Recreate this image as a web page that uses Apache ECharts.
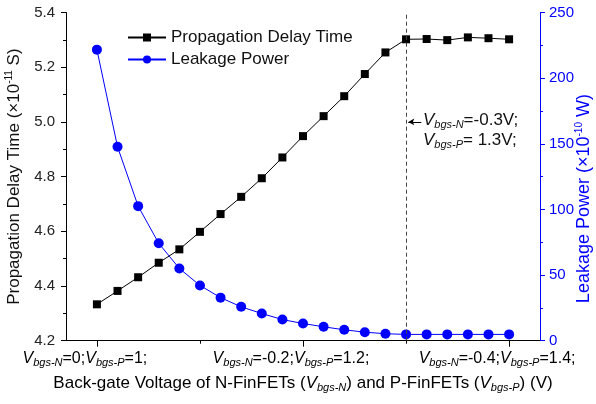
<!DOCTYPE html>
<html>
<head>
<meta charset="utf-8">
<script src="https://cdn.jsdelivr.net/npm/echarts@6/dist/echarts.min.js"></script>
<style>
html, body { margin: 0; padding: 0; background: #fff; }
#main { width: 596px; height: 404px; }
</style>
</head>
<body>
<div id="main"></div>
<script>
// step index along the back-gate sweep (0 -> Vbgs-N=0, 20 -> Vbgs-N=-0.4)
const steps = [0, 1, 2, 3, 4, 5, 6, 7, 8, 9, 10, 11, 12, 13, 14, 15, 16, 17, 18, 19, 20];
const delayTime = [4.333, 4.382, 4.432, 4.485, 4.534, 4.598, 4.663, 4.726, 4.794, 4.870, 4.948,
                   5.021, 5.094, 5.175, 5.254, 5.302, 5.303, 5.299, 5.309, 5.306, 5.302];
const leakagePower = [221.7, 147.7, 102.5, 74.2, 55.0, 42.1, 32.8, 25.8, 20.7, 16.1, 13.1,
                      10.6, 8.3, 6.5, 5.3, 4.8, 4.8, 4.8, 4.8, 4.8, 4.8];
const tickSteps = [0, 10, 20];
const minorTickSteps = [5, 15];
const tickVbgsN = ['0', '-0.2', '-0.4'];
const tickVbgsP = ['1', '1.2', '1.4'];
const markStep = 15;
const markVbgsN = '-0.3V;';
const markVbgsP = ' 1.3V;';

const FONT = '"Liberation Sans", Arial, sans-serif';
const BLUE = '#0000ff';

function richSet(size, color) {
    return {
        n: { fontFamily: FONT, fontSize: size, lineHeight: 20, color: color },
        v: { fontFamily: FONT, fontSize: size, lineHeight: 20, fontStyle: 'italic', color: color },
        s: { fontFamily: FONT, fontSize: 11, lineHeight: 8, fontStyle: 'italic', verticalAlign: 'bottom', color: color },
        sup: { fontFamily: FONT, fontSize: 10, lineHeight: 10, verticalAlign: 'top', color: color }
    };
}

var myChart = echarts.init(document.getElementById('main'));
myChart.setOption({
    animation: false,
    backgroundColor: '#fff',
    grid: { left: 66, right: 56, top: 12.5, bottom: 63.3, containLabel: false, outerBoundsMode: 'none' },
    legend: {
        orient: 'vertical',
        left: 122,
        top: 24,
        itemWidth: 38,
        itemHeight: 10,
        itemGap: 5,
        textStyle: { fontFamily: FONT, fontSize: 17, color: '#111' },
        data: ['Propagation Delay Time', 'Leakage Power']
    },
    xAxis: [
        {
            type: 'value',
            min: -1.5,
            max: 21.5,
            splitLine: { show: false },
            axisLine: { onZero: false, lineStyle: { color: '#000', width: 1 } },
            axisTick: { customValues: tickSteps, length: 6, lineStyle: { color: '#000' } },
            axisLabel: {
                customValues: tickSteps,
                margin: 8,
                padding: [0, 24, 0, 0],
                formatter: function (v) {
                    const k = tickSteps.indexOf(Math.round(v));
                    if (k < 0) return '';
                    return '{v|V}{s|bgs-N}{n|=' + tickVbgsN[k] + ';}{v|V}{s|bgs-P}{n|=' + tickVbgsP[k] + ';}';
                },
                rich: richSet(16, '#000')
            },
            name: '{n|Back-gate Voltage of N-FinFETs (}{v|V}{s|bgs-N}{n|) and P-FinFETs (}{v|V}{s|bgs-P}{n|) (V)}',
            nameLocation: 'middle',
            nameGap: 33,
            nameTextStyle: { rich: richSet(17, '#000') }
        },
        {
            type: 'value',
            min: -1.5,
            max: 21.5,
            position: 'bottom',
            splitLine: { show: false },
            axisLine: { show: false, onZero: false },
            axisTick: { customValues: minorTickSteps, length: 3, lineStyle: { color: '#000' } },
            axisLabel: { show: false }
        }
    ],
    yAxis: [
        {
            type: 'value',
            min: 4.2,
            max: 5.4,
            interval: 0.2,
            splitLine: { show: false },
            axisLine: { show: true, onZero: false, lineStyle: { color: '#000', width: 1 } },
            axisTick: { show: true, length: 5, lineStyle: { color: '#000' } },
            minorTick: { show: true, splitNumber: 2, length: 3, lineStyle: { color: '#000' } },
            axisLabel: {
                fontFamily: FONT, fontSize: 15, color: '#222', margin: 11,
                formatter: function (v) { return v.toFixed(1); }
            },
            name: '{n|Propagation Delay Time (×10}{sup|-11}{n| S)}',
            nameLocation: 'middle',
            nameGap: 41,
            nameTextStyle: { rich: richSet(17, '#111') }
        },
        {
            type: 'value',
            min: 0,
            max: 250,
            interval: 50,
            position: 'right',
            splitLine: { show: false },
            axisLine: { show: true, onZero: false, lineStyle: { color: BLUE, width: 1 } },
            axisTick: { show: true, length: 5, lineStyle: { color: BLUE } },
            minorTick: { show: true, splitNumber: 2, length: 3, lineStyle: { color: BLUE } },
            axisLabel: { fontFamily: FONT, fontSize: 15, color: BLUE, margin: 9 },
            name: '{n|Leakage Power (×10}{sup|-10}{n| W)}',
            nameLocation: 'middle',
            nameGap: 34,
            nameMoveOverlap: false,
            nameTextStyle: { padding: [0, 44, 0, 0], rich: richSet(18, BLUE) }
        }
    ],
    series: [
        {
            name: 'Propagation Delay Time',
            type: 'line',
            xAxisIndex: 0,
            yAxisIndex: 0,
            data: steps.map(function (s, i) { return [s, delayTime[i]]; }),
            symbol: 'rect',
            symbolSize: 8,
            itemStyle: { color: '#000' },
            lineStyle: { color: '#000', width: 1 },
            z: 3,
            markLine: {
                silent: true,
                symbol: ['none', 'none'],
                label: { show: false },
                data: [
                    { xAxis: markStep, lineStyle: { type: [4, 3], color: '#444', width: 1 } },
                    [
                        { coord: [markStep + 0.74, 5.0], symbol: 'none', lineStyle: { type: 'solid', color: '#000', width: 1 } },
                        { coord: [markStep + 0.11, 5.0], symbol: 'arrow', symbolSize: [5, 6] }
                    ]
                ]
            },
            markPoint: {
                silent: true,
                symbol: 'circle',
                symbolSize: 0,
                data: [{ coord: [markStep + 0.82, 4.968] }],
                label: {
                    show: true,
                    position: 'right',
                    distance: 0,
                    align: 'left',
                    formatter: '{v|V}{s|bgs-N}{n|=' + markVbgsN + '}\n{v|V}{s|bgs-P}{n|=' + markVbgsP + '}',
                    rich: richSet(17, '#111')
                }
            }
        },
        {
            name: 'Leakage Power',
            type: 'line',
            xAxisIndex: 0,
            yAxisIndex: 1,
            data: steps.map(function (s, i) { return [s, leakagePower[i]]; }),
            symbol: 'circle',
            symbolSize: 10,
            itemStyle: { color: BLUE },
            lineStyle: { color: BLUE, width: 1 },
            z: 2
        }
    ]
});
</script>
</body>
</html>
